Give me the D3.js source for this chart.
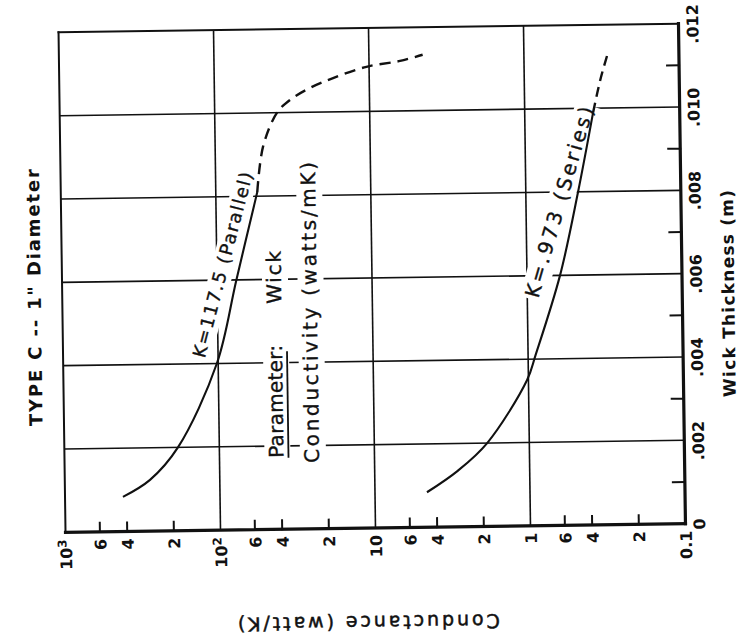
<!DOCTYPE html>
<html>
<head>
<meta charset="utf-8">
<script src="https://cdn.jsdelivr.net/npm/d3@7"></script>
<style>
  body { margin: 0; background: #fff; }
  svg { display: block; }
</style>
</head>
<body>
<svg id="chart" width="748" height="643"></svg>
<script>
// Wick conductance vs. wick thickness, Type C heat pipe, 1" diameter.
// Parameter: wick conductivity K (watts/mK).

// K = 117.5 (parallel model) — measured range, then extrapolated (dashed)
const parallelSolidThickness   = [0.00083, 0.00123, 0.0020, 0.0040, 0.0060, 0.0081];
const parallelSolidConductance = [423, 282, 185, 102, 75, 54];
const parallelDashThickness    = [0.0081, 0.0092, 0.0100, 0.0103, 0.01058, 0.01081, 0.01107, 0.0112, 0.01134];
const parallelDashConductance  = [54, 49, 39.6, 32.6, 24.2, 17.1, 10.4, 6.3, 4.5];

// K = .973 (series model)
const seriesSolidThickness   = [0.00084, 0.00135, 0.0020, 0.0035, 0.0041, 0.0060, 0.0080, 0.0099];
const seriesSolidConductance = [4.62, 2.9, 1.87, 1.02, 0.894, 0.612, 0.46, 0.362];
const seriesDashThickness    = [0.0099, 0.0107, 0.01134];
const seriesDashConductance  = [0.362, 0.322, 0.286];

// Axis ticks
const conductanceTickValues = [1000, 600, 400, 200, 100, 60, 40, 20, 10, 6, 4, 2, 1, 0.6, 0.4, 0.2, 0.1];
const conductanceTickLabels = ["10|3", "6", "4", "2", "10|2", "6", "4", "2", "10", "6", "4", "2", "1", "6", "4", "2", "0.1"];
const conductanceMinorTicks = [600, 400, 200, 60, 40, 20, 6, 4, 2, 0.6, 0.4, 0.2];
const conductanceDecades    = [100, 10, 1];
const thicknessTickValues   = [0, 0.002, 0.004, 0.006, 0.008, 0.010, 0.012];
const thicknessTickLabels   = ["0", ".002", ".004", ".006", ".008", ".010", ".012"];
const thicknessMinorTicks   = [0.001, 0.003, 0.005, 0.007, 0.009, 0.011];
const thicknessGrid         = [0.002, 0.004, 0.006, 0.008, 0.010];

const svg = d3.select("#chart");
const box = { left: 62, right: 682, top: 28, bottom: 528 };
const ink = "#111";
const sans = "'DejaVu Sans', 'Liberation Sans', Arial, sans-serif";

const x = d3.scaleLog().domain([1000, 0.1]).range([box.left, box.right]);
const y = d3.scaleLinear().domain([0, 0.012]).range([box.bottom, box.top]);

// whole sheet sits slightly tilted
const g = svg.append("g")
  .attr("transform", `rotate(-0.8, ${(box.left + box.right) / 2}, ${(box.top + box.bottom) / 2})`);

// grid
const grid = g.append("g").attr("stroke", ink).attr("stroke-width", 1.6).attr("fill", "none");
grid.selectAll(".vg").data(conductanceDecades).join("line")
  .attr("x1", d => x(d)).attr("x2", d => x(d))
  .attr("y1", box.top).attr("y2", box.bottom);
grid.selectAll(".hg").data(thicknessGrid).join("line")
  .attr("y1", d => y(d)).attr("y2", d => y(d))
  .attr("x1", box.left).attr("x2", box.right);

// in-plot annotations, each on a white patch that interrupts the grid
function note(px, py, angle, parts) {
  const n = g.append("g").attr("transform", `translate(${px},${py}) rotate(${angle})`);
  const bg = n.append("rect").attr("fill", "#fff");
  const texts = parts.map(p => {
    const t = n.append("text")
      .attr("x", p.x || 0).attr("y", 0)
      .attr("text-anchor", p.anchor || "middle")
      .attr("dominant-baseline", "central")
      .attr("font-family", sans)
      .attr("font-size", p.size)
      .attr("fill", ink)
      .attr("stroke", ink).attr("stroke-width", 0.35)
      .text(p.text);
    if (p.length) t.attr("textLength", p.length).attr("lengthAdjust", "spacing");
    if (p.underline) {
      const len = t.node().getComputedTextLength();
      const x0 = p.x || 0;
      n.append("line").attr("x1", x0).attr("x2", x0 + len - 4)
        .attr("y1", p.size * 0.6).attr("y2", p.size * 0.6)
        .attr("stroke", ink).attr("stroke-width", 1.8);
    }
    return t;
  });
  let bb = null;
  texts.forEach(t => {
    const b = t.node().getBBox();
    if (!bb) bb = { x0: b.x, y0: b.y, x1: b.x + b.width, y1: b.y + b.height };
    else {
      bb.x0 = Math.min(bb.x0, b.x); bb.y0 = Math.min(bb.y0, b.y);
      bb.x1 = Math.max(bb.x1, b.x + b.width); bb.y1 = Math.max(bb.y1, b.y + b.height);
    }
  });
  const pad = 2;
  bg.attr("x", bb.x0 - pad).attr("y", bb.y0)
    .attr("width", bb.x1 - bb.x0 + 2 * pad).attr("height", bb.y1 - bb.y0 + 2);
  return n;
}

note(x(92), y(0.00637), -74.6, [{ text: "K=117.5 (Parallel)", size: 18, length: 191 }]);
note(x(0.61), y(0.00776), -73, [{ text: "K=.973 (Series)", size: 20, length: 198 }]);
note(274, 456.6, -90, [
  { text: "Parameter:", size: 20, anchor: "start", length: 113, underline: true },
  { text: "Wick", size: 20, anchor: "start", x: 154, length: 53 }
]);
note(309.5, 462.1, -90, [{ text: "Conductivity (watts/mK)", size: 20, anchor: "start", length: 301 }]);

// frame
const frame = g.append("g").attr("stroke", ink).attr("fill", "none").attr("stroke-linecap", "square");
frame.append("line").attr("x1", box.left).attr("x2", box.left).attr("y1", box.top).attr("y2", box.bottom).attr("stroke-width", 2);
frame.append("line").attr("x1", box.left).attr("x2", box.right).attr("y1", box.top).attr("y2", box.top).attr("stroke-width", 2);
frame.append("line").attr("x1", box.left).attr("x2", box.right).attr("y1", box.bottom).attr("y2", box.bottom).attr("stroke-width", 3.2);
frame.append("line").attr("x1", box.right).attr("x2", box.right).attr("y1", box.top).attr("y2", box.bottom).attr("stroke-width", 3.2);

// inward minor ticks
frame.selectAll(".mb").data(conductanceMinorTicks).join("line")
  .attr("x1", d => x(d)).attr("x2", d => x(d))
  .attr("y1", box.bottom).attr("y2", box.bottom - 9).attr("stroke-width", 2);
frame.selectAll(".mr").data(thicknessMinorTicks).join("line")
  .attr("y1", d => y(d)).attr("y2", d => y(d))
  .attr("x1", box.right).attr("x2", box.right - 12).attr("stroke-width", 2);

// bottom axis labels (conductance), reading upward
const bottomAxis = d3.axisBottom(x)
  .tickValues(conductanceTickValues)
  .tickSize(0)
  .tickFormat((d, i) => conductanceTickLabels[i]);
const ba = g.append("g").attr("transform", `translate(0,${box.bottom})`).call(bottomAxis);
ba.select(".domain").remove();
ba.selectAll("text")
  .attr("transform", "rotate(-90)")
  .attr("x", -7).attr("y", 0).attr("dy", "0.36em")
  .attr("text-anchor", "end")
  .attr("font-family", sans).attr("font-size", 16).attr("font-weight", "bold")
  .attr("fill", ink)
  .each(function () {
    const s = d3.select(this).text();
    if (s.includes("|")) {
      const [base, exp] = s.split("|");
      const t = d3.select(this).text("");
      t.append("tspan").text(base);
      t.append("tspan").attr("font-size", 12).attr("dy", "-0.45em").text(exp);
    }
  });

// right axis labels (wick thickness), reading upward
const rightAxis = d3.axisRight(y)
  .tickValues(thicknessTickValues)
  .tickSize(0)
  .tickFormat((d, i) => thicknessTickLabels[i]);
const ra = g.append("g").attr("transform", `translate(${box.right},0)`).call(rightAxis);
ra.select(".domain").remove();
ra.selectAll("text")
  .attr("transform", "rotate(-90)")
  .attr("x", 0).attr("y", 14).attr("dy", "0.36em")
  .attr("text-anchor", "middle")
  .attr("font-family", sans).attr("font-size", 16).attr("font-weight", "bold")
  .attr("fill", ink);

// curves
const zip = (ts, gs) => ts.map((t, i) => ({ t, g: gs[i] }));
const line = d3.line().x(d => x(d.g)).y(d => y(d.t)).curve(d3.curveCatmullRom.alpha(0.5));
const curves = g.append("g").attr("fill", "none").attr("stroke", ink).attr("stroke-width", 2.1);
curves.append("path").attr("d", line(zip(parallelSolidThickness, parallelSolidConductance)));
curves.append("path").attr("d", line(zip(parallelDashThickness, parallelDashConductance)))
  .attr("stroke-dasharray", "11,7").attr("stroke-width", 2.4);
curves.append("path").attr("d", line(zip(seriesSolidThickness, seriesSolidConductance)));
curves.append("path").attr("d", line(zip(seriesDashThickness, seriesDashConductance)))
  .attr("stroke-dasharray", "10,6").attr("stroke-width", 2.4);

// titles
function title(px, py, angle, text, size, weight, length, stroke) {
  const t = g.append("text")
    .attr("transform", `translate(${px},${py}) rotate(${angle})`)
    .attr("text-anchor", "middle").attr("dominant-baseline", "central")
    .attr("font-family", sans).attr("font-size", size).attr("font-weight", weight)
    .attr("fill", ink)
    .attr("textLength", length).attr("lengthAdjust", "spacing")
    .text(text);
  if (stroke) t.attr("stroke", ink).attr("stroke-width", stroke);
}
title(34, 293, -90, "TYPE C -- 1\" Diameter", 18, "bold", 257);
title(728, 298.5, -90, "Wick Thickness (m)", 17, "bold", 207);
title(364, 623, 180, "Conductance (watt/K)", 19, "normal", 262, 0.5);
</script>
</body>
</html>
